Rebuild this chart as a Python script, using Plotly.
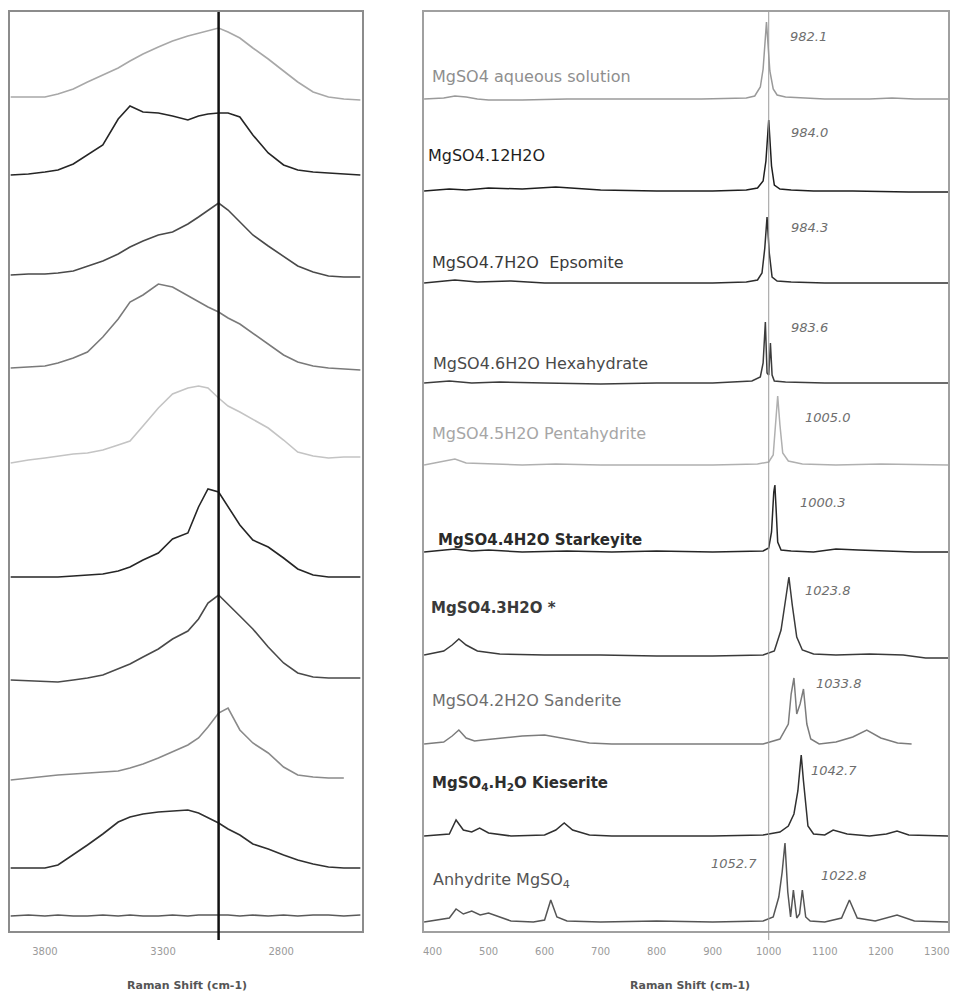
import plotly.graph_objects as go

# ---------------- Left panel: O-H stretching region ----------------
left_x = [3945, 3870, 3800, 3745, 3680, 3620, 3555, 3490, 3440, 3385, 3320, 3260, 3195,
          3150, 3110, 3065, 3025, 2975, 2920, 2855, 2790, 2730, 2665, 2600, 2535, 2465]

left_offsets = [833, 756, 655, 563, 471, 354, 252, 153, 63, 15]

left_i1 = [1, 1, 1, 4, 9, 16, 23, 30, 37, 44, 51, 57, 62, 65, 67, 70, 66, 60, 50, 39, 27, 16, 6, 1, -1, -2]
left_i2 = [0, 1, 3, 5, 11, 20, 30, 56, 69, 63, 62, 59, 55, 59, 61, 62, 62, 58, 40, 22, 10, 5, 3, 2, 1, 0]
left_i3 = [1, 2, 2, 3, 5, 10, 15, 22, 29, 35, 41, 44, 52, 59, 66, 73, 66, 54, 41, 30, 20, 10, 4, 0, -1, -1]
left_i4 = [0, 1, 2, 5, 10, 16, 31, 49, 66, 73, 84, 81, 72, 66, 61, 56, 50, 44, 35, 24, 13, 6, 2, 0, -1, -2]
left_i5 = [-3, 0, 2, 4, 6, 7, 10, 15, 19, 34, 52, 66, 72, 74, 72, 62, 54, 48, 41, 32, 20, 8, 4, 2, 3, 3]
left_i6 = [0, 0, 0, 0, 1, 2, 3, 6, 10, 17, 24, 38, 44, 70, 88, 85, 70, 52, 37, 30, 19, 8, 2, 0, 0, 0]
left_i7 = [-1, -2, -3, -3, -1, 1, 4, 10, 15, 22, 30, 40, 48, 60, 76, 84, 75, 63, 50, 32, 16, 6, 2, 1, 1, 1]
left_i8 = [-2, 0, 2, 3, 4, 5, 6, 7, 10, 14, 20, 26, 33, 40, 51, 65, 70, 48, 35, 25, 11, 3, 1, 0, 0, None]
left_i9 = [0, 0, 0, 3, 13, 23, 34, 46, 51, 54, 56, 57, 58, 55, 50, 45, 39, 33, 24, 19, 13, 8, 4, 1, 0, 0]
left_i10 = [0, 1, 0, 1, 0, 0, 1, 0, 1, 0, 0, 1, 0, 1, 1, 1, 1, 0, 1, 0, 1, 0, 1, 1, 0, 1]

left_series = [left_i1, left_i2, left_i3, left_i4, left_i5, left_i6, left_i7, left_i8, left_i9, left_i10]
left_colors = ["#a8a8a8", "#262626", "#4a4a4a", "#7a7a7a", "#c4c4c4",
               "#262626", "#4a4a4a", "#8a8a8a", "#303030", "#5a5a5a"]
left_ticks = [3800, 3300, 2800]
left_ref_line = 3065

# ---------------- Right panel: 400-1300 cm-1 region ----------------
names = ["MgSO4 aqueous solution", "MgSO4.12H2O", "MgSO4.7H2O  Epsomite",
         "MgSO4.6H2O Hexahydrate", "MgSO4.5H2O Pentahydrite", "MgSO4.4H2O Starkeyite",
         "MgSO4.3H2O *", "MgSO4.2H2O Sanderite",
         "MgSO<sub>4</sub>.H<sub>2</sub>O Kieserite", "Anhydrite MgSO<sub>4</sub>"]
name_bold = [False, False, False, False, False, True, True, False, True, False]
peak_labels = ["982.1", "984.0", "984.3", "983.6", "1005.0", "1000.3",
               "1023.8", "1033.8", "1042.7", "1052.7", "1022.8"]
right_offsets = [832, 740, 648, 548, 466, 379, 276, 187, 95, 9]

aq_x = [385, 420, 440, 460, 480, 500, 560, 640, 720, 800, 880, 960, 975, 985, 990, 996, 1002, 1008, 1015, 1030, 1060, 1100, 1140, 1180, 1220, 1260, 1300, 1320]
aq_i = [0, 1, 3, 2, 0, -1, -1, 0, 0, 0, 0, 1, 3, 12, 30, 77, 28, 10, 4, 2, 1, 0, 0, 0, 1, 0, 0, 0]

h12_x = [385, 430, 460, 500, 560, 620, 700, 800, 900, 960, 980, 990, 995, 1000, 1005, 1010, 1020, 1040, 1080, 1150, 1250, 1320]
h12_i = [0, 2, 1, 3, 2, 4, 1, 0, 0, 1, 3, 10, 30, 71, 25, 6, 2, 1, 0, 0, -1, -1]

eps_x = [385, 440, 480, 540, 600, 700, 800, 900, 960, 980, 988, 993, 997, 1001, 1006, 1015, 1040, 1100, 1200, 1320]
eps_i = [0, 3, 1, 2, 0, 0, 0, 0, 1, 3, 10, 35, 66, 30, 6, 2, 1, 0, 0, 0]

hex_x = [385, 430, 470, 520, 600, 700, 800, 900, 970, 985, 990, 994, 997, 1000, 1003, 1006, 1010, 1030, 1100, 1200, 1320]
hex_i = [0, 2, 0, 1, 0, -1, 0, 0, 2, 6, 20, 61, 10, 8, 40, 8, 2, 1, 0, 0, 0]

pen_x = [385, 420, 440, 460, 500, 560, 620, 700, 800, 900, 980, 1000, 1008, 1013, 1016, 1020, 1025, 1035, 1060, 1120, 1200, 1320]
pen_i = [0, 4, 6, 2, 1, 0, 1, 0, 0, 0, 1, 3, 10, 45, 69, 40, 12, 4, 1, 0, 1, 0]

sta_x = [385, 440, 470, 500, 560, 640, 720, 800, 900, 990, 1000, 1005, 1009, 1011, 1013, 1016, 1022, 1040, 1080, 1120, 1160, 1200, 1260, 1320]
sta_i = [0, 3, 1, 2, 0, 1, 0, 1, 0, 1, 4, 20, 60, 67, 45, 10, 2, 1, 0, 3, 2, 1, 0, 0]

tri_x = [385, 420, 435, 447, 460, 480, 520, 600, 700, 800, 900, 990, 1010, 1022, 1030, 1036, 1042, 1050, 1060, 1080, 1120, 1180, 1240, 1280, 1320]
tri_i = [0, 4, 10, 16, 10, 4, 1, 0, 0, -1, -1, 0, 4, 25, 55, 78, 50, 18, 5, 1, 0, 1, 0, -3, -3]

san_x = [385, 420, 435, 447, 460, 475, 490, 520, 560, 600, 640, 680, 720, 800, 900, 990, 1020, 1035, 1040, 1045, 1050, 1056, 1062, 1068, 1075, 1090, 1120, 1150, 1175, 1200, 1230, 1255]
san_i = [0, 2, 8, 14, 6, 3, 4, 6, 8, 9, 5, 1, 0, 0, 0, 0, 5, 20, 50, 66, 30, 40, 55, 20, 5, 0, 2, 7, 14, 6, 1, 0]

kie_x = [385, 430, 442, 455, 470, 484, 500, 540, 600, 620, 635, 650, 680, 720, 800, 900, 990, 1020, 1035, 1045, 1052, 1058, 1062, 1066, 1070, 1080, 1100, 1115, 1140, 1180, 1210, 1229, 1250, 1320]
kie_i = [0, 2, 16, 6, 4, 8, 3, 0, 1, 6, 13, 6, 1, 0, 0, 0, 1, 4, 10, 22, 45, 81, 55, 30, 10, 2, 1, 6, 2, 0, 2, 5, 1, 0]

anh_x = [385, 430, 442, 455, 470, 485, 500, 520, 540, 580, 600, 611, 622, 640, 700, 800, 900, 990, 1008, 1018, 1024, 1029, 1034, 1039, 1044, 1050, 1055, 1060, 1066, 1074, 1100, 1130, 1144, 1158, 1190, 1229, 1260, 1320]
anh_i = [0, 4, 13, 8, 11, 7, 9, 5, 1, 0, 2, 22, 5, 1, 0, 1, 0, 1, 5, 25, 50, 79, 30, 5, 32, 4, 8, 32, 5, 1, 0, 4, 22, 4, 1, 7, 1, 0]

right_x = [aq_x, h12_x, eps_x, hex_x, pen_x, sta_x, tri_x, san_x, kie_x, anh_x]
right_i = [aq_i, h12_i, eps_i, hex_i, pen_i, sta_i, tri_i, san_i, kie_i, anh_i]
right_colors = ["#9a9a9a", "#1e1e1e", "#2e2e2e", "#3c3c3c", "#b0b0b0",
                "#262626", "#3a3a3a", "#7c7c7c", "#303030", "#555555"]
right_ticks = [400, 500, 600, 700, 800, 900, 1000, 1100, 1200, 1300]
right_ref_line = 1000

fig = go.Figure()

for ys, off, col in zip(left_series, left_offsets, left_colors):
    fig.add_trace(go.Scatter(x=left_x, y=[None if v is None else off + v for v in ys],
                             mode="lines", line=dict(color=col, width=1.6),
                             xaxis="x", yaxis="y", showlegend=False, hoverinfo="skip"))

for xs, ys, off, col in zip(right_x, right_i, right_offsets, right_colors):
    fig.add_trace(go.Scatter(x=xs, y=[off + v for v in ys],
                             mode="lines", line=dict(color=col, width=1.5),
                             xaxis="x2", yaxis="y2", showlegend=False, hoverinfo="skip"))

W, H = 964, 995
ydom = [1 - 931 / H, 1 - 12 / H]
axis_common = dict(showgrid=False, zeroline=False, showline=True, mirror=True,
                   ticks="", tickfont=dict(family="DejaVu Sans", size=10, color="#9a9a9a"),
                   ticklabelstandoff=10)

fig.update_layout(
    width=W, height=H,
    margin=dict(l=0, r=0, t=0, b=0),
    paper_bgcolor="white", plot_bgcolor="white",
    xaxis=dict(domain=[9 / W, 362 / W], range=[3948, 2457],
               tickvals=left_ticks, ticktext=[str(t) for t in left_ticks],
               linecolor="#8c8c8c", linewidth=2, **axis_common),
    yaxis=dict(domain=ydom, range=[0, 919], showticklabels=False,
               showgrid=False, zeroline=False, showline=True, mirror=True,
               linecolor="#8c8c8c", linewidth=2),
    xaxis2=dict(domain=[424 / W, 949 / W], range=[385, 1320],
                tickvals=right_ticks, ticktext=[str(t) for t in right_ticks],
                linecolor="#a0a0a0", linewidth=1.5, anchor="y2", **axis_common),
    yaxis2=dict(domain=ydom, range=[0, 919], showticklabels=False, anchor="x2",
                showgrid=False, zeroline=False, showline=True, mirror=True,
                linecolor="#a0a0a0", linewidth=1.5),
)

fig.add_shape(type="line", xref="x", yref="paper", x0=left_ref_line, x1=left_ref_line,
              y0=1 - 940 / H, y1=ydom[1], line=dict(color="#111111", width=2.5))
fig.add_shape(type="line", xref="x2", yref="paper", x0=right_ref_line, x1=right_ref_line,
              y0=1 - 940 / H, y1=ydom[1], line=dict(color="#9a9a9a", width=1))

# sample labels (right panel)
name_pos = [(395, 77), (388, 155), (395, 262), (397, 363), (395, 433),
            (407, 540), (393, 608), (395, 700), (395, 783), (398, 880)]
name_colors = ["#8e8e8e", "#1e1e1e", "#3a3a3a", "#4a4a4a", "#a6a6a6",
               "#2a2a2a", "#3a3a3a", "#6e6e6e", "#2e2e2e", "#555555"]
for txt, (x, py), col, b in zip(names, name_pos, name_colors, name_bold):
    fig.add_annotation(x=x, y=931 - py, xref="x2", yref="y2",
                       text=("<b>" + txt + "</b>") if b else txt, showarrow=False,
                       xanchor="left", yanchor="middle",
                       font=dict(family="DejaVu Sans", size=15 if b else 16, color=col))

num_pos = [(1035, 37, "left"), (1037, 132, "left"), (1037, 227, "left"), (1037, 327, "left"),
           (1062, 417, "left"), (1053, 502, "left"), (1062, 590, "left"), (1080, 683, "left"),
           (1071, 770, "left"), (982, 863, "right"), (1090, 875, "left")]
for txt, (x, py, anc) in zip(peak_labels, num_pos):
    fig.add_annotation(x=x, y=931 - py, xref="x2", yref="y2", text="<i>" + txt + "</i>",
                       showarrow=False, xanchor=anc, yanchor="middle",
                       font=dict(family="DejaVu Sans", size=13, color="#6e6e6e"))

for cx in [186 / W, 690 / W]:
    fig.add_annotation(x=cx, y=1 - 985 / H, xref="paper", yref="paper",
                       text="<b>Raman Shift (cm-1)</b>", showarrow=False,
                       xanchor="center", yanchor="middle",
                       font=dict(family="DejaVu Sans", size=11, color="#555555"))

fig.write_html("out.html", config={"displayModeBar": False},
               post_script="document.body.style.margin='0px';")
